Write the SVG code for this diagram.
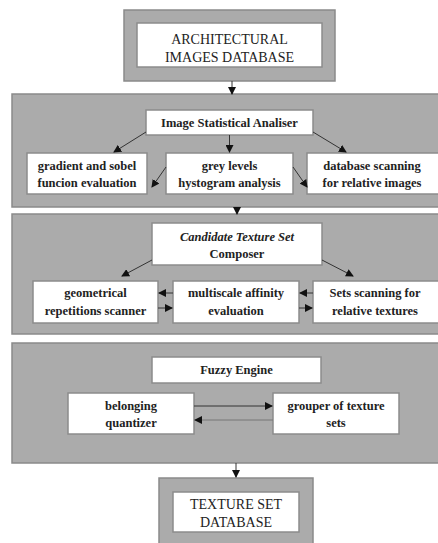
<svg xmlns="http://www.w3.org/2000/svg" width="438" height="543" viewBox="0 0 438 543">
<defs>
<marker id="ah" markerWidth="8" markerHeight="8" refX="7" refY="4" orient="auto" markerUnits="userSpaceOnUse">
<path d="M0,0 L8,4 L0,8 Z" fill="#111"/>
</marker>
</defs>
<style>
.panel{fill:#ababab;stroke:#8a8a8a;stroke-width:1.5}
.box{fill:#fff;stroke:#8c8c8c;stroke-width:1.5}
.t{font-family:"Liberation Serif",serif;font-size:12.5px;fill:#222;text-anchor:middle}
.tb{font-weight:bold}
.big{font-size:14px}
.c{stroke:#333;stroke-width:1;fill:none;marker-end:url(#ah)}
.cl{stroke:#777;stroke-width:1;fill:none;marker-end:url(#ah)}
</style>
<rect width="438" height="543" fill="#fff"/>
<g id="arch-db">
<rect class="panel" x="124" y="10" width="211" height="71"/>
<rect class="box" x="137" y="23" width="185" height="44"/>
<text class="t big" x="229.500" y="44">ARCHITECTURAL</text>
<text class="t big" x="229.500" y="62">IMAGES DATABASE</text>
</g>
<g id="panel-analiser">
<rect class="panel" x="12" y="94" width="428" height="113"/>
</g>
<g id="analiser">
<rect class="box" x="146" y="110" width="167" height="25"/>
<text class="t tb" x="229.500" y="127">Image Statistical Analiser</text>
</g>
<g id="gradient">
<rect class="box" x="27" y="153" width="120" height="41"/>
<text class="t tb" x="87" y="170">gradient and sobel</text>
<text class="t tb" x="87" y="187">funcion evaluation</text>
</g>
<g id="grey">
<rect class="box" x="166" y="153" width="127" height="41"/>
<text class="t tb" x="229.500" y="170">grey levels</text>
<text class="t tb" x="229.500" y="187">hystogram analysis</text>
</g>
<g id="dbscan">
<rect class="box" x="307" y="153" width="133" height="41"/>
<text class="t tb" x="372" y="170">database scanning</text>
<text class="t tb" x="372" y="187">for relative images</text>
</g>
<g id="panel-composer">
<rect class="panel" x="12" y="214" width="428" height="120"/>
</g>
<g id="composer">
<rect class="box" x="152" y="223" width="170" height="42"/>
<text class="t" x="237" y="241" font-style="italic" font-weight="bold">Candidate Texture Set</text>
<text class="t tb" x="237" y="258">Composer</text>
</g>
<g id="geom">
<rect class="box" x="33" y="281" width="125" height="42"/>
<text class="t tb" x="95.500" y="297">geometrical</text>
<text class="t tb" x="95.500" y="315">repetitions scanner</text>
</g>
<g id="multiscale">
<rect class="box" x="173" y="281" width="126" height="42"/>
<text class="t tb" x="236" y="297">multiscale affinity</text>
<text class="t tb" x="236" y="315">evaluation</text>
</g>
<g id="setsscan">
<rect class="box" x="313" y="281" width="127" height="42"/>
<text class="t tb" x="375" y="297">Sets scanning for</text>
<text class="t tb" x="375" y="315">relative textures</text>
</g>
<g id="panel-fuzzy">
<rect class="panel" x="12" y="343" width="428" height="120"/>
</g>
<g id="fuzzy">
<rect class="box" x="152" y="357" width="169" height="26"/>
<text class="t tb" x="236.500" y="374">Fuzzy Engine</text>
</g>
<g id="belonging">
<rect class="box" x="68" y="393" width="126" height="41"/>
<text class="t tb" x="131" y="410">belonging</text>
<text class="t tb" x="131" y="427" font-size="11">quantizer</text>
</g>
<g id="grouper">
<rect class="box" x="273" y="393" width="126" height="41"/>
<text class="t tb" x="336" y="410">grouper of texture</text>
<text class="t tb" x="336" y="427" font-size="11">sets</text>
</g>
<g id="texture-db">
<rect class="panel" x="159" y="478" width="154" height="70"/>
<rect class="box" x="173" y="492" width="126" height="40"/>
<text class="t big" x="236" y="509">TEXTURE SET</text>
<text class="t big" x="236" y="527">DATABASE</text>
</g>
<g id="connectors">
<path class="c" d="M232,81 L232,94"/>
<path class="c" d="M146,132 L114,152"/>
<path class="c" d="M229.500,135 L229.500,152"/>
<path class="c" d="M313,132 L346,152"/>
<path class="c" d="M166,167 L152,187"/>
<path class="c" d="M293,167 L307,187"/>
<path class="c" d="M237,207 L237,214"/>
<path class="c" d="M152,260 L122,276"/>
<path class="c" d="M322,260 L353,276"/>
<path class="c" d="M173,293 L159,293"/>
<path class="c" d="M158,308 L172,308"/>
<path class="c" d="M313,293 L300,293"/>
<path class="c" d="M299,308 L312,308"/>
<path class="c" d="M194,406 L272,406"/>
<path class="cl" d="M273,420 L195,420"/>
<path class="c" d="M236,463 L236,477"/>
</g>
</svg>
